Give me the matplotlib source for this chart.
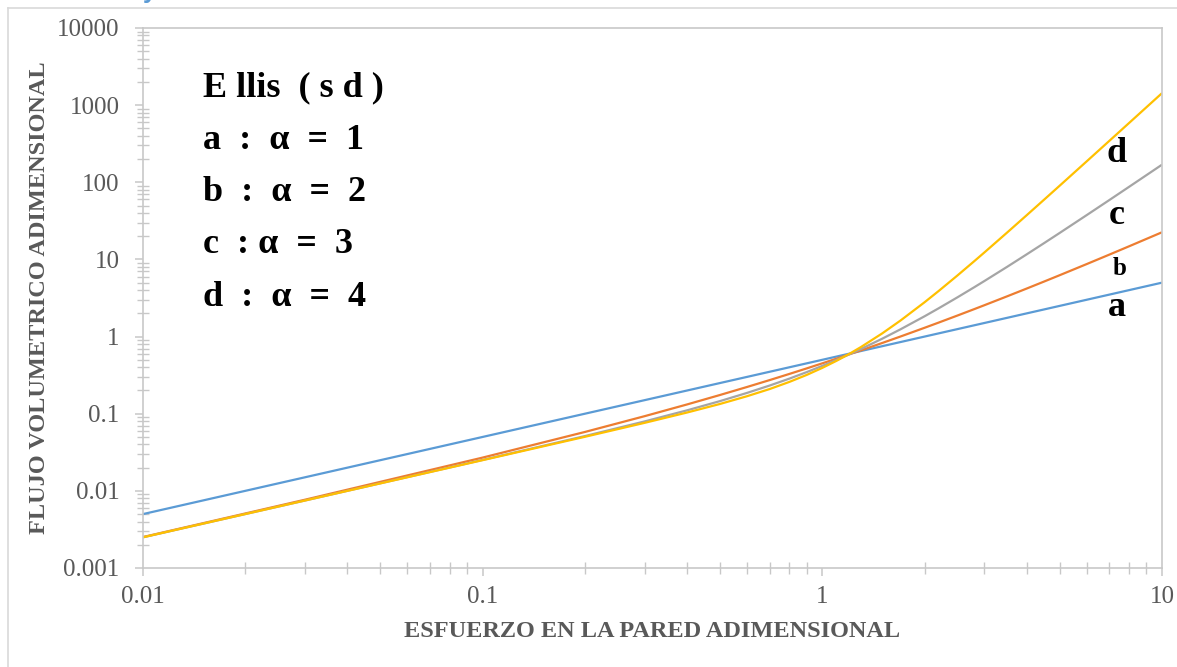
import matplotlib
matplotlib.use("Agg")
import matplotlib.pyplot as plt
from matplotlib.lines import Line2D
from matplotlib.ticker import LogLocator, NullFormatter, FixedLocator, FixedFormatter

# Dimensionless wall shear stress
tau = [0.01, 0.03, 0.1, 0.2, 0.3, 0.4, 0.5, 0.6, 0.7, 0.8, 0.9, 1.0, 1.1,
       1.2, 1.3, 1.5, 1.7, 2.0, 2.2, 2.5, 2.8, 3.0, 3.5, 4.0, 4.5, 5.0, 6.0,
       7.0, 8.0, 10.0]

# Dimensionless volumetric flow for each alpha
flow_a = [0.005, 0.015, 0.05, 0.1, 0.15, 0.2, 0.25, 0.3, 0.35, 0.4, 0.45,
          0.5, 0.55, 0.6, 0.65, 0.75, 0.85, 1.0, 1.1, 1.25, 1.4, 1.5, 1.75,
          2.0, 2.25, 2.5, 3.0, 3.5, 4.0, 5.0]
flow_b = [0.00252, 0.00768, 0.027, 0.058, 0.093, 0.132, 0.175, 0.222, 0.273,
          0.328, 0.387, 0.45, 0.517, 0.588, 0.663, 0.825, 1.003, 1.3, 1.518,
          1.875, 2.268, 2.55, 3.325, 4.2, 5.175, 6.25, 8.7, 11.55, 14.8, 22.5]
flow_c = [0.0025, 0.0075, 0.0252, 0.0513, 0.0795, 0.1107, 0.1458, 0.186,
          0.232, 0.285, 0.3465, 0.417, 0.497, 0.588, 0.691, 0.9375, 1.244,
          1.833, 2.325, 3.23, 4.359, 5.25, 8.02, 11.67, 16.31, 22.08, 37.5,
          58.9, 87.33, 169.2]
flow_d = [0.0025, 0.0075, 0.025, 0.0502, 0.0762, 0.1037, 0.1339, 0.1685,
          0.209, 0.2585, 0.3187, 0.393, 0.484, 0.596, 0.733, 1.098, 1.618,
          2.786, 3.896, 6.205, 9.482, 12.32, 22.32, 37.57, 59.7, 90.5, 186.6,
          344.75, 587.1, 1431.0]

series = [("a", flow_a, "#5B9BD5"), ("b", flow_b, "#ED7D31"),
          ("c", flow_c, "#A5A5A5"), ("d", flow_d, "#FFC000")]

x_ticks = [0.01, 0.1, 1, 10]
x_tick_labels = ["0.01", "0.1", "1", "10"]
y_ticks = [0.001, 0.01, 0.1, 1, 10, 100, 1000, 10000]
y_tick_labels = ["0.001", "0.01", "0.1", "1", "10", "100", "1000", "10000"]

legend_lines = ["E llis  ( s d )", "a  :  \u03b1  =  1", "b  :  \u03b1  =  2",
                "c  : \u03b1  =  3", "d  :  \u03b1  =  4"]

W, H = 1177, 667
SERIF = "Liberation Serif"
GRAY_TXT = "#595959"
AX_COL = "#C8C8C8"

fig = plt.figure(figsize=(W / 100, H / 100), dpi=100)
fig.patch.set_facecolor("white")

# outer chart frame
fig.add_artist(Line2D([8 / W, 1.0], [1 - 8 / H, 1 - 8 / H], color="#D9D9D9", lw=1.2))
fig.add_artist(Line2D([8 / W, 8 / W], [0.0, 1 - 8 / H], color="#D9D9D9", lw=1.2))
fig.text(143 / W, 1 + 2 / H, "y", color="#5B9BD5", fontsize=18, fontweight="bold",
         ha="left", va="baseline", family="Liberation Sans")

left, right, top, bottom = 143, 1162, 28, 568
ax = fig.add_axes([left / W, 1 - bottom / H, (right - left) / W, (bottom - top) / H])

for name, vals, col in series:
    ax.plot(tau, vals, color=col, lw=1.6, solid_capstyle="butt",
            solid_joinstyle="round")

ax.set_xscale("log")
ax.set_yscale("log")
ax.set_xlim(0.01, 10)
ax.set_ylim(0.001, 10000)

ax.xaxis.set_major_locator(FixedLocator(x_ticks))
ax.xaxis.set_major_formatter(FixedFormatter(x_tick_labels))
ax.yaxis.set_major_locator(FixedLocator(y_ticks))
ax.yaxis.set_major_formatter(FixedFormatter(y_tick_labels))
ax.xaxis.set_minor_locator(LogLocator(base=10, subs=range(2, 10), numticks=20))
ax.yaxis.set_minor_locator(LogLocator(base=10, subs=range(2, 10), numticks=20))
ax.xaxis.set_minor_formatter(NullFormatter())
ax.yaxis.set_minor_formatter(NullFormatter())

for sp in ax.spines.values():
    sp.set_color(AX_COL)
    sp.set_linewidth(1.2)

ax.tick_params(axis="both", which="major", direction="out", length=6, width=1.1,
               color=AX_COL, labelcolor=GRAY_TXT, labelsize=18)
ax.tick_params(axis="both", which="minor", direction="inout", length=8, width=1.0,
               color=AX_COL)
ax.tick_params(axis="x", which="major", pad=7)
ax.tick_params(axis="y", which="major", pad=11)
for lab in ax.get_xticklabels() + ax.get_yticklabels():
    lab.set_family(SERIF)

ax.set_xlabel("ESFUERZO EN LA PARED ADIMENSIONAL", family=SERIF, fontsize=17.5,
              fontweight="bold", color=GRAY_TXT, labelpad=9)
ax.set_ylabel("FLUJO VOLUMETRICO ADIMENSIONAL", family=SERIF, fontsize=17.5,
              fontweight="bold", color=GRAY_TXT, labelpad=5)

# model description block
y0 = 88
for i, line in enumerate(legend_lines):
    fig.text(203 / W, 1 - (y0 + i * 52.3) / H, line, family=SERIF, fontsize=26,
             fontweight="bold", color="black", ha="left", va="center")

# curve tags
tags = [("d", 1117, 154, 26), ("c", 1117, 216, 26), ("b", 1120, 268, 18),
        ("a", 1117, 307, 26)]
for t, px, py, fs in tags:
    fig.text(px / W, 1 - py / H, t, family=SERIF, fontsize=fs, fontweight="bold",
             color="black", ha="center", va="center")

fig.savefig("out.png", dpi=100, facecolor="white")
